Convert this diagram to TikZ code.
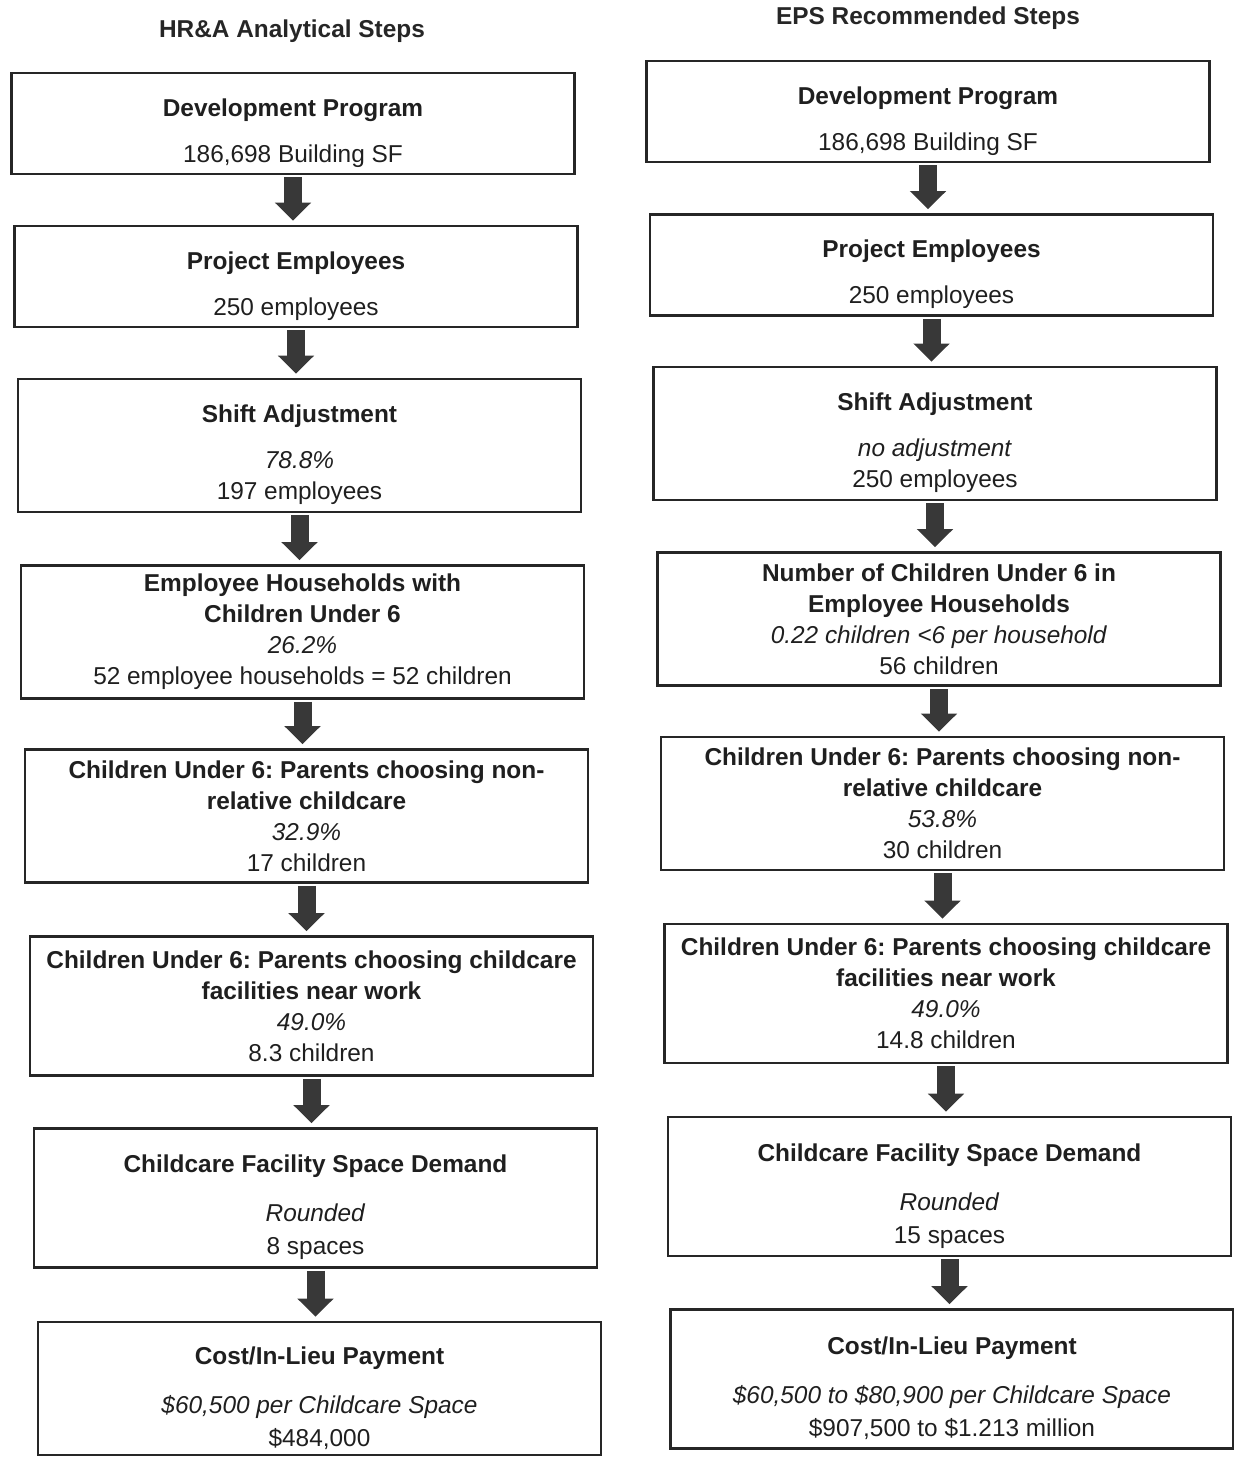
\documentclass[tikz,border=0pt]{standalone}
\usepackage{fontspec}
\setmainfont{Liberation Sans}
\usetikzlibrary{arrows.meta}
\frenchspacing

\newcommand{\hd}[1]{\textbf{#1}}
\newcommand{\tstrut}{\rule{0pt}{18.5pt}}

\begin{document}
\begin{tikzpicture}[x=0.5pt, y=-0.5pt,
  stepbox/.style = {draw=black!85, line width=1.3pt, minimum width=281.5pt, align=center, inner sep=2pt,
    font=\fontsize{12.2}{15.5}\selectfont, text=black!88},
  short/.style = {minimum height=50.5pt},
  mid/.style = {minimum height=66.5pt},
  tall/.style = {minimum height=69.5pt},
  fatarrow/.style = {draw=black!78, line width=9pt, -{Triangle[width=17.5pt, length=9pt]}, shorten <=1pt, shorten >=2pt},
  colhead/.style = {font=\fontsize{12.2}{15}\selectfont\bfseries, text=black!85}]
\useasboundingbox (0,0) rectangle (1233,1458);

\node[colhead] (hl) at (292,31) {HR\&A Analytical Steps};
\node[colhead] (hr) at (928,18) {EPS Recommended Steps};

% left column
\node[stepbox, short] (l1) at (293,123.5) {\tstrut\hd{Development Program}\\[7.5pt] 186,698 Building SF};
\node[stepbox, short] (l2) at (296,276.5) {\tstrut\hd{Project Employees}\\[7.5pt] 250 employees};
\node[stepbox, mid] (l3) at (299.5,445.5) {\tstrut\hd{Shift Adjustment}\\[7.5pt] \textit{78.8\%}\\ 197 employees};
\node[stepbox, mid] (l4) at (302.5,632) {\hd{Employee Households with}\\ \hd{Children Under 6}\\ \textit{26.2\%}\\ 52 employee households = 52 children};
\node[stepbox, mid] (l5) at (306.5,816) {\hd{Children Under 6: Parents choosing non-}\\ \hd{relative childcare}\\ \textit{32.9\%}\\ 17 children};
\node[stepbox, tall] (l6) at (311.5,1006) {\hd{Children Under 6: Parents choosing childcare}\\ \hd{facilities near work}\\ \textit{49.0\%}\\ 8.3 children};
\node[stepbox, tall] (l7) at (315.5,1198) {\tstrut\hd{Childcare Facility Space Demand}\\[9pt] \textit{Rounded}\\[1pt] 8 spaces};
\node[stepbox, mid] (l8) at (319.5,1388.5) {\tstrut\hd{Cost/In-Lieu Payment}\\[9pt] \textit{\$60,500 per Childcare Space}\\[1pt] \$484,000};

% right column
\node[stepbox, short] (r1) at (928,111.5) {\tstrut\hd{Development Program}\\[7.5pt] 186,698 Building SF};
\node[stepbox, short] (r2) at (931.5,265) {\tstrut\hd{Project Employees}\\[7.5pt] 250 employees};
\node[stepbox, mid] (r3) at (935,433.5) {\tstrut\hd{Shift Adjustment}\\[7.5pt] \textit{no adjustment}\\ 250 employees};
\node[stepbox, mid] (r4) at (939,619) {\hd{Number of Children Under 6 in}\\ \hd{Employee Households}\\ \textit{0.22 children <6 per household}\\ 56 children};
\node[stepbox, mid] (r5) at (942.5,803.5) {\hd{Children Under 6: Parents choosing non-}\\ \hd{relative childcare}\\ \textit{53.8\%}\\ 30 children};
\node[stepbox, tall] (r6) at (946,993.5) {\hd{Children Under 6: Parents choosing childcare}\\ \hd{facilities near work}\\ \textit{49.0\%}\\ 14.8 children};
\node[stepbox, tall] (r7) at (949.5,1186.5) {\tstrut\hd{Childcare Facility Space Demand}\\[9pt] \textit{Rounded}\\[1pt] 15 spaces};
\node[stepbox, tall] (r8) at (952,1379) {\tstrut\hd{Cost/In-Lieu Payment}\\[9pt] \textit{\$60,500 to \$80,900 per Childcare Space}\\[1pt] \$907,500 to \$1.213 million};

\foreach \c in {l,r}
  \foreach \i [count=\j from 2] in {1,...,7}
    \draw[fatarrow] (\c\i.south) -- (\c\i.south |- \c\j.north);
\end{tikzpicture}
\end{document}
